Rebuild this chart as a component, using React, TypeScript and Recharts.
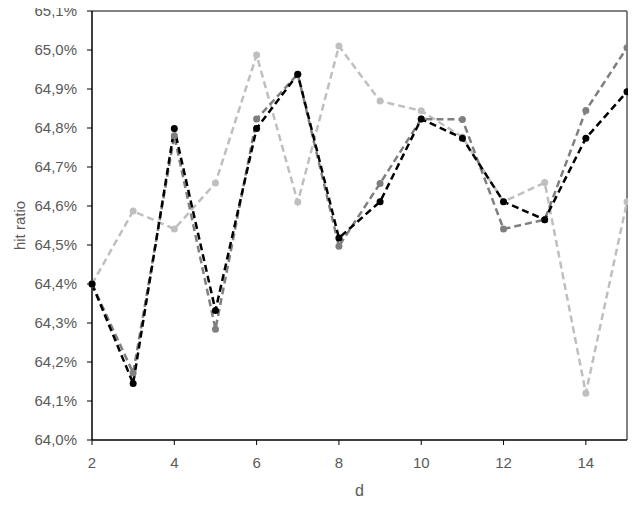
import { LineChart, Line, XAxis, YAxis, ReferenceLine } from 'recharts';

const dValues = [2, 3, 4, 5, 6, 7, 8, 9, 10, 11, 12, 13, 14, 15];
const lightSeries = [64.4, 64.587, 64.541, 64.659, 64.987, 64.61, 65.01, 64.869, 64.844, 64.777, 64.611, 64.66, 64.12, 64.611];
const midSeries = [64.4, 64.172, 64.78, 64.284, 64.823, 64.938, 64.497, 64.658, 64.823, 64.822, 64.541, 64.565, 64.845, 65.006];
const darkSeries = [64.4, 64.145, 64.799, 64.332, 64.799, 64.938, 64.518, 64.611, 64.823, 64.774, 64.611, 64.565, 64.774, 64.893];
const yTicks = [64.0, 64.1, 64.2, 64.3, 64.4, 64.5, 64.6, 64.7, 64.8, 64.9, 65.0, 65.1];
const xTicks = [2, 4, 6, 8, 10, 12, 14];

const data = dValues.map((d, i) => ({
  d,
  light: lightSeries[i],
  mid: midSeries[i],
  dark: darkSeries[i],
}));

const font = '"Liberation Sans", Arial, sans-serif';
const textColor = '#595959';

const formatPct = (v: number) => v.toFixed(1).replace('.', ',') + '%';

export default function App() {
  return (
    <div style={{ fontFamily: font, margin: -8 }}>
      <LineChart
        width={636}
        height={505}
        data={data}
        margin={{ top: 11, right: 9, left: 22, bottom: 22 }}
      >
        <XAxis
          dataKey="d"
          type="number"
          domain={[2, 15]}
          ticks={xTicks}
          interval={0}
          allowDecimals={false}
          axisLine={{ stroke: '#000', strokeWidth: 1.5 }}
          tickLine={{ stroke: '#000' }}
          tickSize={5}
          tickMargin={12}
          tick={{ fill: textColor, fontSize: 15, fontFamily: font }}
          height={43}
          label={{ value: 'd', position: 'insideBottom', offset: -13, fill: textColor, fontSize: 16, fontFamily: font }}
        />
        <YAxis
          type="number"
          domain={[64.0, 65.1]}
          ticks={yTicks}
          interval={0}
          allowDataOverflow
          tickFormatter={formatPct}
          axisLine={{ stroke: '#000', strokeWidth: 1.5 }}
          tickLine={{ stroke: '#000' }}
          tickSize={5}
          tickMargin={10}
          tick={{ fill: textColor, fontSize: 15, fontFamily: font }}
          width={70}
          label={{ value: 'hit ratio', angle: -90, position: 'insideLeft', offset: -2, fill: textColor, fontSize: 15, fontFamily: font, style: { textAnchor: 'middle' } }}
        />
        <ReferenceLine y={65.1} stroke="#595959" strokeWidth={1.5} />
        <ReferenceLine x={15} stroke="#595959" strokeWidth={1.5} />
        <Line
          dataKey="light"
          stroke="#BFBFBF"
          strokeWidth={2.5}
          strokeDasharray="7 4"
          dot={{ r: 3.5, fill: '#BFBFBF', stroke: 'none' }}
          isAnimationActive={false}
        />
        <Line
          dataKey="mid"
          stroke="#7F7F7F"
          strokeWidth={2.5}
          strokeDasharray="7 4"
          dot={{ r: 3.5, fill: '#7F7F7F', stroke: 'none' }}
          isAnimationActive={false}
        />
        <Line
          dataKey="dark"
          stroke="#000000"
          strokeWidth={2.5}
          strokeDasharray="7 4"
          dot={{ r: 3.5, fill: '#000000', stroke: 'none' }}
          isAnimationActive={false}
        />
      </LineChart>
    </div>
  );
}
